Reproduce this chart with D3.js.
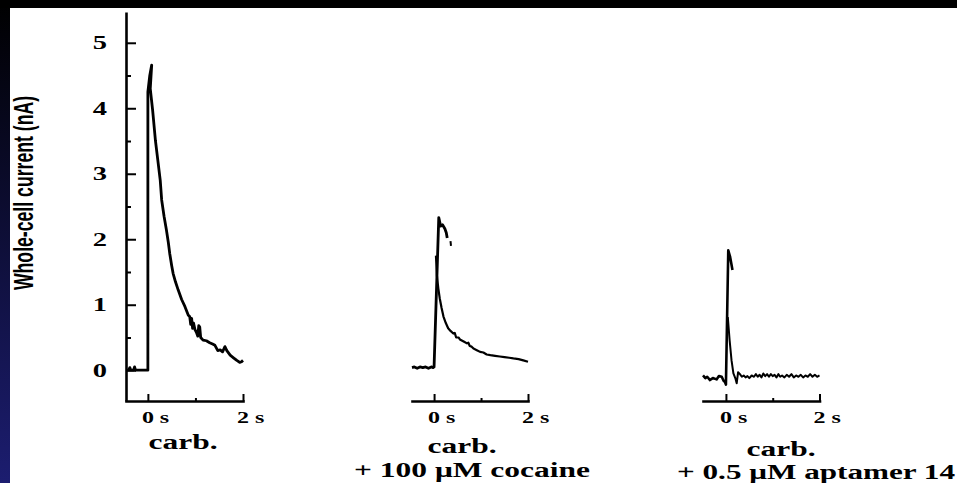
<!DOCTYPE html>
<html>
<head>
<meta charset="utf-8">
<script src="https://cdn.jsdelivr.net/npm/d3@7"></script>
<style>
  body { margin: 0; background: #fff; overflow: hidden; }
</style>
</head>
<body>
<svg id="chart" width="957" height="483"></svg>
<script>
// [time (s), whole-cell current (nA)]
const carbTrace = [
  [-0.46, 0], [-0.4, 0], [-0.38, 0.04], [-0.36, 0], [-0.3, 0], [-0.28, 0.05], [-0.26, 0],
  [0, 0], [0, 4.25], [0.04, 4.5], [0.08, 4.66], [0.05, 4.3], [0.1, 3.97], [0.16, 3.5],
  [0.21, 3.2], [0.26, 2.9], [0.29, 2.6], [0.34, 2.35], [0.39, 2.14], [0.43, 1.95],
  [0.46, 1.78], [0.5, 1.6], [0.53, 1.48], [0.58, 1.35], [0.64, 1.22], [0.71, 1.08],
  [0.78, 0.97], [0.85, 0.84], [0.88, 0.82], [0.9, 0.7], [0.92, 0.79], [0.94, 0.64],
  [0.96, 0.72], [0.99, 0.62], [1.02, 0.58], [1.05, 0.52], [1.07, 0.68], [1.09, 0.66],
  [1.11, 0.5], [1.16, 0.46], [1.23, 0.45], [1.3, 0.42], [1.36, 0.4], [1.41, 0.38],
  [1.47, 0.3], [1.52, 0.31], [1.57, 0.28], [1.62, 0.36], [1.66, 0.3], [1.73, 0.23],
  [1.8, 0.19], [1.87, 0.15], [1.93, 0.12], [1.97, 0.13], [2.0, 0.15]
]
const cocaineRise = [
  [-0.47, 0.04], [-0.42, 0.05], [-0.36, 0.03], [-0.3, 0.05], [-0.24, 0.04], [-0.18, 0.05],
  [-0.12, 0.03], [-0.06, 0.05], [-0.02, 0.04], [0, 0.05], [0.1, 2.33], [0.14, 2.2],
  [0.18, 2.22], [0.23, 2.16], [0.26, 2.1], [0.28, 2.02]
]
const cocaineFragment = [[0.35, 1.97], [0.36, 1.9]]
const cocaineDecay = [
  [0.04, 1.75], [0.06, 1.45], [0.09, 1.25], [0.12, 1.1], [0.16, 0.95], [0.2, 0.82],
  [0.25, 0.72], [0.3, 0.64], [0.35, 0.6], [0.41, 0.56], [0.44, 0.57], [0.47, 0.5],
  [0.52, 0.5], [0.55, 0.47], [0.6, 0.45], [0.65, 0.43], [0.7, 0.41], [0.73, 0.42],
  [0.76, 0.37], [0.8, 0.36], [0.84, 0.33], [0.9, 0.31], [0.98, 0.28], [1.05, 0.27],
  [1.12, 0.24], [1.2, 0.23], [1.3, 0.22], [1.4, 0.21], [1.5, 0.2], [1.6, 0.19],
  [1.69, 0.18], [1.8, 0.17], [1.9, 0.15], [2.0, 0.13]
]
const aptamerRise = [
  [-0.49, -0.08], [-0.44, -0.12], [-0.4, -0.1], [-0.34, -0.15], [-0.28, -0.12], [-0.2, -0.14],
  [-0.15, -0.09], [-0.09, -0.1], [-0.05, -0.16], [-0.02, -0.18], [0, -0.22], [0.02, 0.6],
  [0.05, 1.83], [0.09, 1.73], [0.14, 1.53]
]
const aptamerDecay = [
  [0.04, 0.81], [0.08, 0.45], [0.12, 0.15], [0.16, -0.05], [0.2, -0.12], [0.23, -0.2],
  [0.26, -0.03], [0.3, -0.06], [0.34, -0.1], [0.38, -0.08], [0.42, -0.11], [0.46, -0.09],
  [0.5, -0.12], [0.55, -0.08], [0.6, -0.1], [0.64, -0.06], [0.68, -0.1], [0.72, -0.07],
  [0.76, -0.11], [0.8, -0.05], [0.84, -0.09], [0.88, -0.06], [0.92, -0.1], [0.96, -0.06],
  [1.0, -0.09], [1.04, -0.07], [1.08, -0.11], [1.12, -0.06], [1.16, -0.1], [1.2, -0.08],
  [1.25, -0.11], [1.3, -0.07], [1.35, -0.1], [1.4, -0.06], [1.45, -0.11], [1.5, -0.08],
  [1.55, -0.1], [1.6, -0.07], [1.65, -0.11], [1.7, -0.08], [1.75, -0.1], [1.8, -0.06],
  [1.85, -0.1], [1.9, -0.07], [1.95, -0.1], [2.0, -0.08]
]

const currentTicks = [0, 1, 2, 3, 4, 5]
const currentMinorTicks = [0.5, 1.5, 2.5, 3.5, 4.5]
const timeTicks = [0, 2]
const timeMinorTicks = [1]
const timeTickLabels = ['0 s', '2 s']
const conditionLabels = ['carb.', 'carb.', 'carb.']
const treatmentLabels = ['', '+ 100 \u03bcM cocaine', '+ 0.5 \u03bcM aptamer 14']
const yTitle = 'Whole-cell current (nA)'

// layout of the three panels
const panels = [
  { left: 126, right: 243, tMin: -0.46, traces: [[carbTrace, 2.8]],
    labelX: 183, labelY: 449 },
  { left: 412, right: 528, tMin: -0.47, traces: [[cocaineRise, 2.8], [cocaineFragment, 2], [cocaineDecay, 2.2]],
    labelX: 462, labelY: 453, subX: 354, subY: 477, subW: 236 },
  { left: 703, right: 819.5, tMin: -0.49, traces: [[aptamerRise, 2.6], [aptamerDecay, 2]],
    labelX: 781, labelY: 456, subX: 677, subY: 479, subW: 278 }
]
const serif = '"Liberation Serif", "Times New Roman", serif'
const stretch = 1.5

const svg = d3.select('#chart')

// frame: black top band, dark blue left band
const grad = svg.append('defs').append('linearGradient')
    .attr('id', 'side').attr('x1', 0).attr('x2', 0).attr('y1', 0).attr('y2', 1)
grad.append('stop').attr('offset', '0%').attr('stop-color', '#000')
grad.append('stop').attr('offset', '100%').attr('stop-color', '#1c1d70')
svg.append('rect').attr('width', 957).attr('height', 483).attr('fill', '#fff')
svg.append('rect').attr('width', 10).attr('height', 483).attr('fill', 'url(#side)')
svg.append('rect').attr('width', 957).attr('height', 8).attr('fill', '#000')

const y = d3.scaleLinear().domain([-0.47, 5.47]).range([401, 12])

// y axis with inward ticks
const gy = svg.append('g').attr('transform', 'translate(126,0)')
gy.call(d3.axisRight(y).tickValues(currentTicks).tickSize(10).tickSizeOuter(0).tickFormat(''))
gy.append('g')
    .call(d3.axisRight(y).tickValues(currentMinorTicks).tickSize(5).tickSizeOuter(0).tickFormat(''))
    .call(g => g.select('.domain').remove())
gy.selectAll('.domain').attr('stroke', '#000').attr('stroke-width', 2.6)
gy.selectAll('.tick line').attr('stroke', '#000').attr('stroke-width', 2)

svg.append('g')
    .selectAll('text')
    .data(currentTicks)
    .join('text')
    .attr('transform', function(d){
        return 'translate(107,' + (y(d) + 6.5) + ') scale(' + stretch + ',1)'
    })
    .attr('text-anchor', 'end')
    .attr('font-family', serif)
    .attr('font-weight', 'bold')
    .attr('font-size', 19)
    .text(function(d){ return d })

svg.append('text')
    .attr('transform', 'translate(33,193) scale(1.45,0.93) rotate(-90)')
    .attr('text-anchor', 'middle')
    .attr('font-family', '"Liberation Sans", Arial, sans-serif')
    .attr('font-weight', 'bold')
    .attr('font-size', 19)
    .text(yTitle)

panels.forEach(function(p, i){
    const x = d3.scaleLinear().domain([p.tMin, 2]).range([p.left, p.right])
    const g = svg.append('g')

    const gx = g.append('g').attr('transform', 'translate(0,401)')
    gx.call(d3.axisTop(x).tickValues(timeTicks).tickSize(7).tickSizeOuter(0).tickFormat(''))
    gx.append('g')
        .call(d3.axisTop(x).tickValues(timeMinorTicks).tickSize(3).tickSizeOuter(0).tickFormat(''))
        .call(s => s.select('.domain').remove())
    gx.selectAll('.domain').attr('stroke', '#000').attr('stroke-width', 2.6).attr('stroke-linecap', 'square')
    gx.selectAll('.tick line').attr('stroke', '#000').attr('stroke-width', 2)

    g.append('g')
        .selectAll('text')
        .data(timeTicks)
        .join('text')
        .attr('transform', function(d){
            return 'translate(' + (x(d) - 6) + ',423) scale(' + stretch + ',1)'
        })
        .attr('font-family', serif)
        .attr('font-weight', 'bold')
        .attr('font-size', 16)
        .text(function(d, k){ return timeTickLabels[k] })

    const line = d3.line()
        .x(function(d){ return x(d[0]) })
        .y(function(d){ return y(d[1]) })

    g.append('g')
        .selectAll('path')
        .data(p.traces)
        .join('path')
        .attr('d', function(d){ return line(d[0]) })
        .attr('fill', 'none')
        .attr('stroke', '#000')
        .attr('stroke-width', function(d){ return d[1] })
        .attr('stroke-linejoin', 'round')

    g.append('text')
        .attr('transform', 'translate(' + p.labelX + ',' + p.labelY + ') scale(' + stretch + ',1)')
        .attr('text-anchor', 'middle')
        .attr('font-family', serif)
        .attr('font-weight', 'bold')
        .attr('font-size', 21)
        .text(conditionLabels[i])

    if (treatmentLabels[i]) {
        g.append('text')
            .attr('transform', 'translate(' + p.subX + ',' + p.subY + ') scale(' + stretch + ',1)')
            .attr('font-family', serif)
            .attr('font-weight', 'bold')
            .attr('font-size', 21)
            .attr('textLength', p.subW / stretch)
            .attr('lengthAdjust', 'spacingAndGlyphs')
            .text(treatmentLabels[i])
    }
})
</script>
</body>
</html>
